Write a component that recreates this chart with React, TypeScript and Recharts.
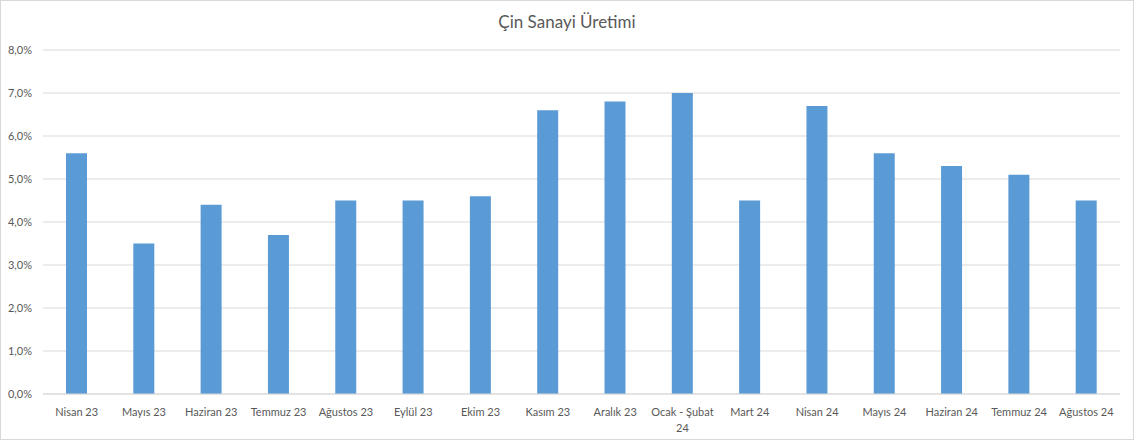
import React from "react";
import { BarChart, Bar, XAxis, YAxis, CartesianGrid, Text } from "recharts";

const categories = [
  "Nisan 23", "Mayıs 23", "Haziran 23", "Temmuz 23", "Ağustos 23", "Eylül 23",
  "Ekim 23", "Kasım 23", "Aralık 23", "Ocak - Şubat 24", "Mart 24", "Nisan 24",
  "Mayıs 24", "Haziran 24", "Temmuz 24", "Ağustos 24",
];
const values = [5.6, 3.5, 4.4, 3.7, 4.5, 4.5, 4.6, 6.6, 6.8, 7.0, 4.5, 6.7, 5.6, 5.3, 5.1, 4.5];
const yTicks = [0, 1, 2, 3, 4, 5, 6, 7, 8];
const title = "Çin Sanayi Üretimi";

const data = categories.map((c, i) => ({ name: c, value: values[i] }));

const FONT = "Lato, 'Open Sans', sans-serif";
const GREY = "#595959";

const fmt = (v: number) => v.toFixed(1).replace(".", ",") + "%";

const XTick = (props: any) => {
  const { x, y, payload } = props;
  const words = String(payload.value).split(" ");
  const lines = words.length > 2 ? [words.slice(0, -1).join(" "), words[words.length - 1]] : [payload.value];
  return (
    <g>
      {lines.map((l: string, i: number) => (
        <text key={i} x={x} y={y + 14 + i * 16} textAnchor="middle" fill={GREY} fontSize={11} fontFamily={FONT}>
          {l}
        </text>
      ))}
    </g>
  );
};

export default function App() {
  return (
    <div style={{ position: "absolute", left: 0, top: 0, width: 1134, height: 440, border: "1px solid #d9d9d9", boxSizing: "border-box", background: "#fff" }}>
      <div style={{ position: "absolute", left: 0, right: 0, top: 9, textAlign: "center", fontFamily: FONT, fontSize: 17, color: GREY, lineHeight: "24px" }}>
        {title}
      </div>
      <BarChart width={1132} height={438} data={data} margin={{ top: 49, right: 13, bottom: 15, left: 0 }}>
        <CartesianGrid vertical={false} stroke="#d9d9d9" />
        <XAxis dataKey="name" interval={0} tickLine={false} axisLine={{ stroke: "#d9d9d9" }} height={30} tick={<XTick />} />
        <YAxis domain={[0, 8]} ticks={yTicks} tickFormatter={fmt} axisLine={false} tickLine={false} width={42} tickMargin={5} tick={{ fill: GREY, fontSize: 11, fontFamily: FONT }} />
        <Bar dataKey="value" fill="#5b9bd5" barSize={21} isAnimationActive={false} />
      </BarChart>
    </div>
  );
}
